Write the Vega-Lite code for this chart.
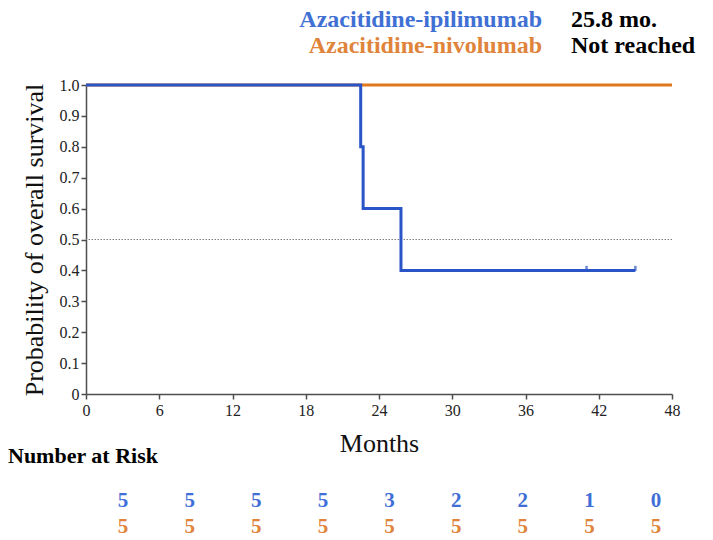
{
  "$schema": "https://vega.github.io/schema/vega-lite/v6.json",
  "padding": {"left": 8, "top": 0, "right": 0, "bottom": 0},
  "bounds": "flush",
  "spacing": 0,
  "resolve": {"scale": {"color": "independent"}},
  "config": {
    "view": {"stroke": null},
    "font": "Liberation Serif",
    "axis": {
      "grid": false,
      "domainColor": "#4d4d4d",
      "domainWidth": 1.5,
      "tickColor": "#4d4d4d",
      "tickWidth": 1.5,
      "tickSize": 5,
      "labelFont": "Liberation Serif",
      "labelFontSize": 16,
      "labelColor": "#222222",
      "labelOverlap": false,
      "titleFont": "Liberation Serif",
      "titleFontWeight": "normal",
      "titleColor": "#111111"
    }
  },
  "vconcat": [
    {
      "width": 586,
      "height": 85,
      "data": {"values": [
        {"arm": "Azacitidine-ipilimumab", "median": "25.8 mo."},
        {"arm": "Azacitidine-nivolumab", "median": "Not reached"}
      ]},
      "encoding": {
        "y": {"field": "arm", "type": "nominal", "scale": {"type": "point", "domain": ["Azacitidine-ipilimumab", "Azacitidine-nivolumab"], "range": [27, 53], "padding": 0}, "axis": null}
      },
      "layer": [
        {
          "mark": {"type": "text", "align": "right", "baseline": "alphabetic", "fontSize": 24, "fontWeight": "bold", "font": "Liberation Serif"},
          "encoding": {
            "x": {"datum": "arm", "type": "nominal", "scale": {"type": "point", "domain": ["arm", "median"], "range": [456, 485], "padding": 0}, "axis": null},
            "text": {"field": "arm"},
            "color": {"field": "arm", "type": "nominal", "scale": {"domain": ["Azacitidine-ipilimumab", "Azacitidine-nivolumab"], "range": ["#4070d4", "#e0843c"]}, "legend": null}
          }
        },
        {
          "mark": {"type": "text", "align": "left", "baseline": "alphabetic", "fontSize": 24, "fontWeight": "bold", "font": "Liberation Serif", "color": "#000000"},
          "encoding": {
            "x": {"datum": "median", "type": "nominal", "scale": {"type": "point", "domain": ["arm", "median"], "range": [456, 485], "padding": 0}, "axis": null},
            "text": {"field": "median"}
          }
        }
      ]
    },
    {
      "width": 586,
      "height": 309,
      "data": {"values": [
        {"arm": "Azacitidine-nivolumab", "month": 0, "surv": 1.0},
        {"arm": "Azacitidine-nivolumab", "month": 48, "surv": 1.0},
        {"arm": "Azacitidine-ipilimumab", "month": 0, "surv": 1.0},
        {"arm": "Azacitidine-ipilimumab", "month": 22.5, "surv": 0.8},
        {"arm": "Azacitidine-ipilimumab", "month": 22.7, "surv": 0.6},
        {"arm": "Azacitidine-ipilimumab", "month": 25.8, "surv": 0.4},
        {"arm": "Azacitidine-ipilimumab", "month": 45.0, "surv": 0.4}
      ]},
      "layer": [
        {
          "data": {"values": [{"level": 0.5}]},
          "mark": {"type": "rule", "color": "#808080", "strokeWidth": 1, "strokeDash": [1.5, 1.5]},
          "encoding": {"y": {"field": "level", "type": "quantitative", "scale": {"domain": [0, 1], "nice": false},
                  "axis": {"values": [0, 0.1, 0.2, 0.3, 0.4, 0.5, 0.6, 0.7, 0.8, 0.9, 1.0], "tickCount": 11, "labelExpr": "datum.value == 0 ? '0' : format(datum.value, '.1f')", "title": "Probability of overall survival", "titleFontSize": 26, "titlePadding": 12, "labelPadding": 2}}}
        },
        {
          "transform": [{"filter": "datum.arm == 'Azacitidine-nivolumab'"}],
          "mark": {"type": "line", "interpolate": "step-after", "strokeWidth": 3, "color": "#e0781e"},
          "encoding": {
            "x": {"field": "month", "type": "quantitative", "scale": {"domain": [0, 48], "nice": false},
                  "axis": {"values": [0, 6, 12, 18, 24, 30, 36, 42, 48], "tickCount": 9, "title": "Months", "titleFontSize": 26, "titlePadding": 12, "labelPadding": 3, "labelFlush": false}},
            "y": {"field": "surv", "type": "quantitative", "scale": {"domain": [0, 1], "nice": false},
                  "axis": {"values": [0, 0.1, 0.2, 0.3, 0.4, 0.5, 0.6, 0.7, 0.8, 0.9, 1.0], "tickCount": 11, "labelExpr": "datum.value == 0 ? '0' : format(datum.value, '.1f')", "title": "Probability of overall survival", "titleFontSize": 26, "titlePadding": 12, "labelPadding": 2}}
          }
        },
        {
          "transform": [{"filter": "datum.arm == 'Azacitidine-ipilimumab'"}],
          "mark": {"type": "line", "interpolate": "step-after", "strokeWidth": 3, "color": "#2a55c8"},
          "encoding": {
            "x": {"field": "month", "type": "quantitative"},
            "y": {"field": "surv", "type": "quantitative"}
          }
        },
        {
          "data": {"values": [
            {"arm": "Azacitidine-ipilimumab", "month": 41.0, "surv": 0.4},
            {"arm": "Azacitidine-ipilimumab", "month": 45.0, "surv": 0.4}
          ]},
          "mark": {"type": "tick", "orient": "vertical", "size": 5, "thickness": 2.5, "yOffset": -2, "color": "#2a55c8"},
          "encoding": {
            "x": {"field": "month", "type": "quantitative"},
            "y": {"field": "surv", "type": "quantitative"}
          }
        }
      ]
    },
    {
      "width": 586,
      "height": 146,
      "title": {"text": "Number at Risk", "anchor": "start", "frame": "group", "dx": -78, "dy": 78, "fontSize": 22, "fontWeight": "bold", "font": "Liberation Serif", "color": "#000000"},
      "data": {"values": [
        {"arm": "Azacitidine-ipilimumab", "month": 0, "n": 5},
        {"arm": "Azacitidine-ipilimumab", "month": 6, "n": 5},
        {"arm": "Azacitidine-ipilimumab", "month": 12, "n": 5},
        {"arm": "Azacitidine-ipilimumab", "month": 18, "n": 5},
        {"arm": "Azacitidine-ipilimumab", "month": 24, "n": 3},
        {"arm": "Azacitidine-ipilimumab", "month": 30, "n": 2},
        {"arm": "Azacitidine-ipilimumab", "month": 36, "n": 2},
        {"arm": "Azacitidine-ipilimumab", "month": 42, "n": 1},
        {"arm": "Azacitidine-ipilimumab", "month": 48, "n": 0},
        {"arm": "Azacitidine-nivolumab", "month": 0, "n": 5},
        {"arm": "Azacitidine-nivolumab", "month": 6, "n": 5},
        {"arm": "Azacitidine-nivolumab", "month": 12, "n": 5},
        {"arm": "Azacitidine-nivolumab", "month": 18, "n": 5},
        {"arm": "Azacitidine-nivolumab", "month": 24, "n": 5},
        {"arm": "Azacitidine-nivolumab", "month": 30, "n": 5},
        {"arm": "Azacitidine-nivolumab", "month": 36, "n": 5},
        {"arm": "Azacitidine-nivolumab", "month": 42, "n": 5},
        {"arm": "Azacitidine-nivolumab", "month": 48, "n": 5}
      ]},
      "mark": {"type": "text", "baseline": "alphabetic", "fontSize": 21, "fontWeight": "bold", "font": "Liberation Serif"},
      "encoding": {
        "x": {"field": "month", "type": "ordinal", "scale": {"type": "point", "range": [37, 570], "padding": 0}, "axis": null},
        "y": {"field": "arm", "type": "nominal", "scale": {"type": "point", "domain": ["Azacitidine-ipilimumab", "Azacitidine-nivolumab"], "range": [113, 139], "padding": 0}, "axis": null},
        "text": {"field": "n"},
        "color": {"field": "arm", "type": "nominal", "scale": {"domain": ["Azacitidine-ipilimumab", "Azacitidine-nivolumab"], "range": ["#3f6fd6", "#e0843c"]}, "legend": null}
      }
    }
  ]
}
